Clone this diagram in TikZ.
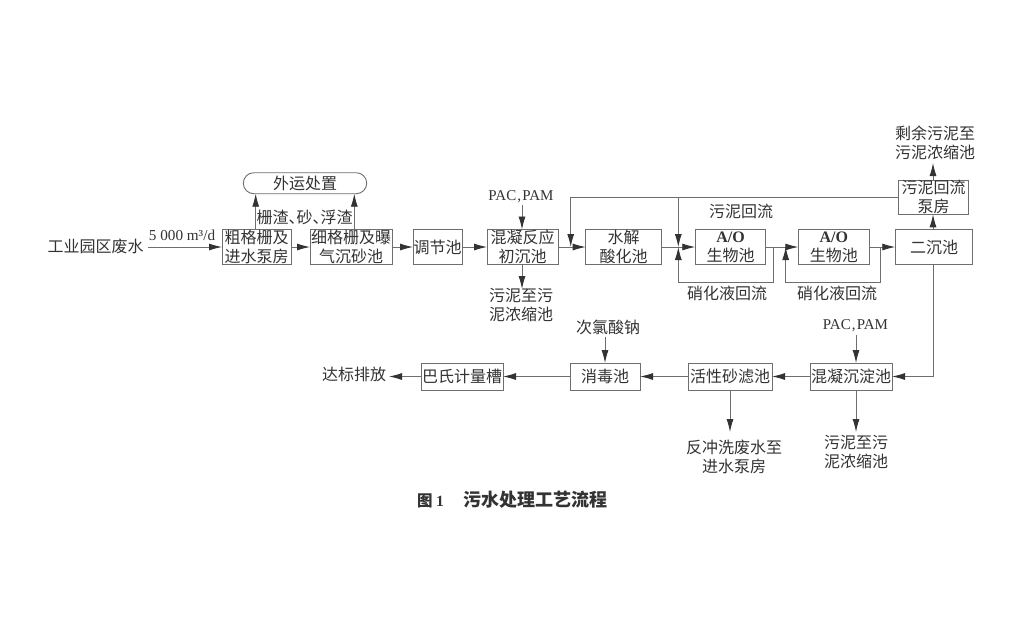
\documentclass[tikz,border=0pt]{standalone}
\usepackage{fontspec}
\setmainfont{Noto Sans CJK SC}
\newfontfamily\lat{Liberation Serif}
\usetikzlibrary{arrows.meta,calc,shapes.misc}
\definecolor{ink}{HTML}{333333}
\definecolor{wire}{HTML}{6E6E6E}
\tikzset{
  every node/.style={text=ink,inner sep=0pt,outer sep=0pt,font=\fontsize{16}{19}\selectfont,align=center},
  box/.style={draw=wire,line width=0.9pt,fill=white},
  txt/.style={},
  conn/.style={draw=wire,line width=0.9pt},
  flow/.style={conn,-{Latex[length=13pt,width=7pt,color=ink]}}
}
\newcommand{\pacpam}{\lat\fontsize{15}{19}\selectfont PAC\kern1.2pt,\kern1.2pt PAM}
\begin{document}
\begin{tikzpicture}[x=1pt,y=-1pt]
\useasboundingbox[fill=white] (0,0) rectangle (1024,625);
% top row
\node[box,minimum width=69pt,minimum height=35pt] (cg) at (256.5,247) {粗格栅及\\进水泵房};
\node[box,minimum width=82pt,minimum height=35pt] (xg) at (351,247) {细格栅及曝\\气沉砂池};
\node[box,minimum width=49pt,minimum height=35pt] (tj) at (437.5,247) {调节池};
\node[box,minimum width=71pt,minimum height=35pt] (hn) at (522.5,247) {混凝反应\\初沉池};
\node[box,minimum width=76pt,minimum height=35pt] (sj) at (623.7,247) {水解\\酸化池};
\node[box,minimum width=70.5pt,minimum height=35pt] (ao1) at (730.5,247) {{\lat\bfseries A/O}\\生物池};
\node[box,minimum width=71pt,minimum height=35pt] (ao2) at (833.8,247) {{\lat\bfseries A/O}\\生物池};
\node[box,minimum width=77.5pt,minimum height=35pt] (ec) at (934,247) {二沉池};
\node[box,minimum width=69.5pt,minimum height=34pt] (bf) at (933.5,197.3) {污泥回流\\泵房};
\node[draw=wire,line width=0.9pt,rounded rectangle,minimum width=123.4pt,minimum height=21pt] (wy) at (305,183.2) {外运处置};
% bottom row
\node[box,minimum width=82pt,minimum height=27pt] (hc) at (851,376.5) {混凝沉淀池};
\node[box,minimum width=84pt,minimum height=27pt] (hx) at (730,376.5) {活性砂滤池};
\node[box,minimum width=70pt,minimum height=27pt] (xd) at (605,376.5) {消毒池};
\node[box,minimum width=82pt,minimum height=27pt] (bs) at (462,376.5) {巴氏计量槽};
% labels
\node[txt] (src) at (95.5,246) {工业园区废水};
\node[txt] (rate) at (182,235.5) {\lat\fontsize{15.2}{19}\selectfont 5 000 m³/d};
\node[txt] (zz) at (304.5,217) {栅渣、\kern-8pt 砂、\kern-8pt 浮渣};
\node[txt] (pac1) at (521,196.5) {\pacpam};
\node[txt] (wn1) at (521,305.5) {污泥至污\\泥浓缩池};
\node[txt] (wnhl) at (741,211.7) {污泥回流};
\node[txt] (xh1) at (727,293.5) {硝化液回流};
\node[txt] (xh2) at (837,293.5) {硝化液回流};
\node[txt] (sy) at (935,143) {剩余污泥至\\污泥浓缩池};
\node[txt] (pac2) at (855.5,325.5) {\pacpam};
\node[txt] (clo) at (608,327) {次氯酸钠};
\node[txt] (db) at (354,374.5) {达标排放};
\node[txt] (fc) at (734,456.5) {反冲洗废水至\\进水泵房};
\node[txt] (wn2) at (856,452.5) {污泥至污\\泥浓缩池};
\node[txt,font=\fontsize{15.5}{19}\selectfont\bfseries] (cap) at (512.5,500) {图 {\lat 1}\hspace{1.3em}{\fontsize{18}{20}\selectfont 污水处理工艺流程}};
% helper coordinates
\coordinate (p1) at (255.7,229);
\coordinate (q1) at (255.7,193.7);
\coordinate (p2) at (354.3,229);
\coordinate (q2) at (354.3,193.7);
\coordinate (r1) at (570.7,197.3);
\coordinate (r2) at (570.7,247);
\coordinate (r3) at (678.3,197.3);
\coordinate (r4) at (678.3,247);
\coordinate (n1) at (678.3,282);
\coordinate (n2) at (773.3,282);
\coordinate (n3) at (773.3,247);
\coordinate (m1) at (785.7,247);
\coordinate (m2) at (785.7,282);
\coordinate (m3) at (880,282);
\coordinate (m4) at (880,247);
\coordinate (e1) at (933,264.5);
\coordinate (e2) at (933,376.5);
\coordinate (e3) at (933,229.5);
\coordinate (e4) at (933,214.3);
\coordinate (e5) at (933,180.3);
\coordinate (e6) at (933,163);
\coordinate (a1) at (148,247);
\coordinate (a2) at (522,205);
\coordinate (a3) at (522,229.5);
\coordinate (a4) at (522,264.5);
\coordinate (a5) at (522,289);
\coordinate (b1) at (856,335);
\coordinate (b2) at (856,363);
\coordinate (b3) at (856,390);
\coordinate (b4) at (856,432);
\coordinate (b5) at (605,337);
\coordinate (b6) at (605,363);
\coordinate (b7) at (730,390);
\coordinate (b8) at (730,432);
\coordinate (b9) at (389,376.5);
% connectors
\draw[flow] (a1) -- (cg.west);
\draw[flow] (cg.east) -- (xg.west);
\draw[flow] (xg.east) -- (tj.west);
\draw[flow] (tj.east) -- (hn.west);
\draw[flow] (hn.east) -- (sj.west);
\draw[flow] (sj.east) -- (ao1.west);
\draw[flow] (ao1.east) -- (ao2.west);
\draw[flow] (ao2.east) -- (ec.west);
\draw[flow] (p1) -- (q1);
\draw[flow] (p2) -- (q2);
\draw[flow] (a2) -- (a3);
\draw[flow] (a4) -- (a5);
\draw[flow] (bf.west) -- (r1) -- (r2);
\draw[flow] (r3) -- (r4);
\draw[flow] (n3) -- (n2) -- (n1) -- (r4);
\draw[flow] (m4) -- (m3) -- (m2) -- (m1);
\draw[flow] (e3) -- (e4);
\draw[flow] (e5) -- (e6);
\draw[flow] (e1) -- (e2) -- (hc.east);
\draw[flow] (b1) -- (b2);
\draw[flow] (b3) -- (b4);
\draw[flow] (hc.west) -- (hx.east);
\draw[flow] (hx.west) -- (xd.east);
\draw[flow] (xd.west) -- (bs.east);
\draw[flow] (bs.west) -- (b9);
\draw[flow] (b5) -- (b6);
\draw[flow] (b7) -- (b8);
\end{tikzpicture}
\end{document}
